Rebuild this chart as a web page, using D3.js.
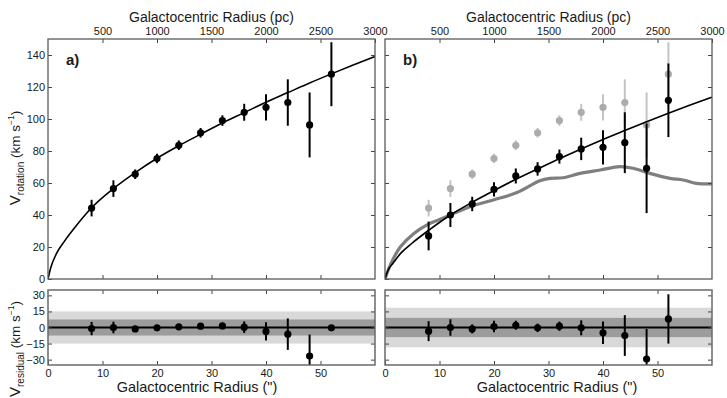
<!DOCTYPE html>
<html>
<head>
<meta charset="utf-8">
<script src="https://cdn.jsdelivr.net/npm/d3@7"></script>
<style>
  body { margin: 0; background: #fff; }
  text { font-family: "Liberation Sans", Arial, Helvetica, sans-serif; fill: #1a1a1a; }
</style>
</head>
<body>
<div id="chart"></div>
<script>
// measured points (arcsec)
const radius = [8, 12, 16, 20, 24, 28, 32, 36, 40, 44, 48, 52];

// panel a: observed rotation velocities
const vrotA = [44.3, 56.5, 65.5, 75.3, 83.6, 91.4, 99, 104.2, 107.3, 110.3, 96.3, 128];
const errA  = [5.2, 5.2, 3, 3, 3, 3, 3.3, 5.3, 8.2, 14.5, 20.3, 20];
const residA    = [-1, 0, -1.3, -0.3, 0.6, 1.2, 1.5, 0.3, -3.7, -6.2, -26.6, -0.3];
const residErrA = [6.2, 5.4, 2.5, 2.5, 2.5, 2.5, 3, 5.4, 8.5, 14.7, 20, 0];

// panel b: corrected rotation velocities
const vrotB = [26.9, 40, 46.9, 56, 64.4, 68.8, 76.5, 81.3, 82.3, 85.2, 69.2, 111.7];
const errB  = [9, 7.5, 4.5, 4.5, 4.7, 4.2, 4.4, 7, 10.7, 19, 28, 23];
const residB    = [-3.4, 0, -1.3, 0.9, 2.1, -0.3, 1.2, -0.3, -5, -7.5, -29.4, 8];
const residErrB = [9.3, 7.7, 4.2, 5.3, 4.2, 3.9, 4.3, 7, 10.5, 19, 28, 23];

// model fits
const fitRadius = [0, 0.5, 1.5, 3, 5, 8, 12, 16, 20, 24, 28, 32, 36, 40, 44, 48, 52, 56, 60];
const fitA = [0, 7, 15.5, 23.5, 32.5, 44.5, 56.5, 66.5, 75.5, 83.3, 90.5, 97.5, 104, 110.5, 116.5, 122.5, 128.2, 133.7, 139];
const fitB = [0, 5, 10, 16.5, 22.5, 30.4, 40, 48, 55.3, 62.3, 68.8, 75.2, 81.3, 87.2, 92.8, 98.3, 103.6, 108.7, 113.6];

// grey curve in panel b
const greyRadius = [0, 1, 2.8, 5.3, 7.8, 9.9, 12, 15.6, 19.9, 24.2, 28.4, 30.3, 32.7, 35.8, 39.5, 43.1, 45.5, 48.6, 52.3, 54.7, 57.1, 60];
const greyV      = [0, 9, 20, 28.5, 34, 37, 40, 45.2, 49.4, 54, 61.4, 62.9, 63.3, 66, 68.1, 70.2, 69.2, 66, 62.9, 61.9, 59.8, 59.4];

// residual scatter bands (outer, inner)
const bandA = [15, 7.5];
const bandB = [18.5, 9];

const xTicks = [0, 10, 20, 30, 40, 50];
const pcTicks = [500, 1000, 1500, 2000, 2500, 3000];
const vTicks = [0, 20, 40, 60, 80, 100, 120, 140];
const rTicks = [-30, -15, 0, 15, 30];

const W = 727, H = 398;
const topY = [39, 279], resY = [290, 365];

const svg = d3.select('#chart').append('svg')
    .attr('width', W)
    .attr('height', H);

const defs = svg.append('defs');

function drawPanel(p) {
  const x = d3.scaleLinear().domain([0, 60]).range([p.x0, p.x1]);
  const xpc = d3.scaleLinear().domain([0, 3000]).range([p.x0, p.x1]);
  const y = d3.scaleLinear().domain([0, 150]).range([topY[1], topY[0]]);
  const yr = d3.scaleLinear().domain([-35, 35]).range([resY[1], resY[0]]);

  defs.append('clipPath').attr('id', 'clipTop' + p.id)
    .append('rect').attr('x', p.x0).attr('y', topY[0])
    .attr('width', p.x1 - p.x0).attr('height', topY[1] - topY[0]);
  defs.append('clipPath').attr('id', 'clipRes' + p.id)
    .append('rect').attr('x', p.x0).attr('y', resY[0])
    .attr('width', p.x1 - p.x0).attr('height', resY[1] - resY[0]);

  // ---- top panel ----
  const gTop = svg.append('g').attr('clip-path', `url(#clipTop${p.id})`);

  if (p.grey) {
    gTop.selectAll('.gerr').data(radius).join('line')
        .attr('x1', d => x(d)).attr('x2', d => x(d))
        .attr('y1', (d, i) => y(vrotA[i] - errA[i]))
        .attr('y2', (d, i) => y(vrotA[i] + errA[i]))
        .attr('stroke', '#c4c4c4').attr('stroke-width', 2);
    gTop.selectAll('.gdot').data(radius).join('circle')
        .attr('cx', d => x(d)).attr('cy', (d, i) => y(vrotA[i]))
        .attr('r', 3.6).attr('fill', '#acacac');

    const greyLine = d3.line()
        .x((d, i) => x(greyRadius[i]))
        .y(d => y(d))
        .curve(d3.curveCatmullRom);
    gTop.append('path').datum(greyV)
        .attr('d', greyLine)
        .attr('fill', 'none').attr('stroke', '#7f7f7f').attr('stroke-width', 3.2);
  }

  const fitLine = d3.line()
      .x((d, i) => x(fitRadius[i]))
      .y(d => y(d))
      .curve(d3.curveMonotoneX);
  gTop.append('path').datum(p.fit)
      .attr('d', fitLine)
      .attr('fill', 'none').attr('stroke', '#000').attr('stroke-width', 1.6);

  gTop.selectAll('.err').data(radius).join('line')
      .attr('x1', d => x(d)).attr('x2', d => x(d))
      .attr('y1', (d, i) => y(p.v[i] - p.e[i]))
      .attr('y2', (d, i) => y(p.v[i] + p.e[i]))
      .attr('stroke', '#000').attr('stroke-width', 2);
  gTop.selectAll('.dot').data(radius).join('circle')
      .attr('cx', d => x(d)).attr('cy', (d, i) => y(p.v[i]))
      .attr('r', 3.6).attr('fill', '#000');

  // axes of top panel, ticks inward
  svg.append('g').attr('class', 'axis')
      .attr('transform', `translate(0,${topY[1]})`)
      .call(d3.axisBottom(x).tickValues(xTicks.slice(1)).tickSizeInner(-4).tickSizeOuter(0).tickFormat(''));
  svg.append('g').attr('class', 'axis')
      .attr('transform', `translate(0,${topY[0]})`)
      .call(d3.axisTop(xpc).tickValues(pcTicks).tickSizeInner(-4).tickSizeOuter(0).tickPadding(4)
        .tickFormat(d3.format('d')));
  svg.append('g').attr('class', 'axis')
      .attr('transform', `translate(${p.x0},0)`)
      .call(d3.axisLeft(y).tickValues(vTicks).tickSizeInner(-4).tickSizeOuter(0).tickPadding(3)
        .tickFormat(p.labels ? d3.format('d') : ''));
  svg.append('g').attr('class', 'axis')
      .attr('transform', `translate(${p.x1},0)`)
      .call(d3.axisRight(y).tickValues(vTicks.slice(1)).tickSizeInner(-4).tickSizeOuter(0).tickFormat(''));

  svg.append('rect')
      .attr('x', p.x0).attr('y', topY[0])
      .attr('width', p.x1 - p.x0).attr('height', topY[1] - topY[0])
      .attr('fill', 'none').attr('stroke', '#5a5a5a').attr('stroke-width', 1.3);

  svg.append('text')
      .attr('x', p.x0 + (p.x1 - p.x0) / 2).attr('y', 22)
      .attr('text-anchor', 'middle').attr('font-size', 14)
      .text('Galactocentric Radius (pc)');

  svg.append('text')
      .attr('x', p.x0 + 18).attr('y', 65)
      .attr('font-size', 15).attr('font-weight', 'bold')
      .text(p.id + ')');

  // ---- residual panel ----
  const gRes = svg.append('g').attr('clip-path', `url(#clipRes${p.id})`);
  gRes.append('rect')
      .attr('x', p.x0).attr('width', p.x1 - p.x0)
      .attr('y', yr(p.band[0])).attr('height', yr(-p.band[0]) - yr(p.band[0]))
      .attr('fill', '#d9d9d9');
  gRes.append('rect')
      .attr('x', p.x0).attr('width', p.x1 - p.x0)
      .attr('y', yr(p.band[1])).attr('height', yr(-p.band[1]) - yr(p.band[1]))
      .attr('fill', '#9c9c9c');
  gRes.append('line')
      .attr('x1', p.x0).attr('x2', p.x1)
      .attr('y1', yr(0)).attr('y2', yr(0))
      .attr('stroke', '#000').attr('stroke-width', 1.8);

  gRes.selectAll('.rerr').data(radius).join('line')
      .attr('x1', d => x(d)).attr('x2', d => x(d))
      .attr('y1', (d, i) => yr(p.r[i] - p.re[i]))
      .attr('y2', (d, i) => yr(p.r[i] + p.re[i]))
      .attr('stroke', '#000').attr('stroke-width', 2);
  gRes.selectAll('.rdot').data(radius).join('circle')
      .attr('cx', d => x(d)).attr('cy', (d, i) => yr(p.r[i]))
      .attr('r', 3.6).attr('fill', '#000');

  svg.append('g').attr('class', 'axis')
      .attr('transform', `translate(0,${resY[1]})`)
      .call(d3.axisBottom(x).tickValues(xTicks).tickSizeInner(-4).tickSizeOuter(0).tickPadding(4));
  svg.append('g').attr('class', 'axis')
      .attr('transform', `translate(0,${resY[0]})`)
      .call(d3.axisTop(x).tickValues(xTicks.slice(1)).tickSizeInner(-4).tickSizeOuter(0).tickFormat(''));
  svg.append('g').attr('class', 'axis')
      .attr('transform', `translate(${p.x0},0)`)
      .call(d3.axisLeft(yr).tickValues(rTicks).tickSizeInner(-4).tickSizeOuter(0).tickPadding(3)
        .tickFormat(p.labels ? (d => d < 0 ? '\u2212' + Math.abs(d) : d) : ''));
  svg.append('g').attr('class', 'axis')
      .attr('transform', `translate(${p.x1},0)`)
      .call(d3.axisRight(yr).tickValues(rTicks).tickSizeInner(-4).tickSizeOuter(0).tickFormat(''));

  svg.append('rect')
      .attr('x', p.x0).attr('y', resY[0])
      .attr('width', p.x1 - p.x0).attr('height', resY[1] - resY[0])
      .attr('fill', 'none').attr('stroke', '#6a6a6a').attr('stroke-width', 1.5);

  svg.append('text')
      .attr('x', p.xTitle).attr('y', 392)
      .attr('text-anchor', 'middle').attr('font-size', 14.5)
      .text('Galactocentric Radius (")');
}

drawPanel({id: 'a', x0: 48, x1: 375, v: vrotA, e: errA, r: residA, re: residErrA,
  fit: fitA, band: bandA, labels: true, grey: false, xTitle: 197});
drawPanel({id: 'b', x0: 385, x1: 712, v: vrotB, e: errB, r: residB, re: residErrB,
  fit: fitB, band: bandB, labels: false, grey: true, xTitle: 557});

svg.selectAll('.axis path.domain').remove();
svg.selectAll('.axis line').attr('stroke', '#444');
svg.selectAll('.axis text')
    .attr('font-size', 11)
    .attr('font-family', '"Liberation Sans", Arial, sans-serif')
    .attr('fill', '#1a1a1a');

// y axis titles with sub/superscripts
function yTitle(cy, sub) {
  const t = svg.append('text')
      .attr('transform', `translate(20,${cy}) rotate(-90)`)
      .attr('text-anchor', 'middle');
  t.append('tspan').attr('font-size', 15).text('V');
  t.append('tspan').attr('font-size', 10).attr('dy', 4).text(sub);
  t.append('tspan').attr('font-size', 13.5).attr('dy', -4).text(' (km s');
  t.append('tspan').attr('font-size', 8.5).attr('dy', -6).text('\u22121');
  t.append('tspan').attr('font-size', 13.5).attr('dy', 6).text(')');
}
yTitle(158, 'rotation');
yTitle(349, 'residual');
</script>
</body>
</html>
